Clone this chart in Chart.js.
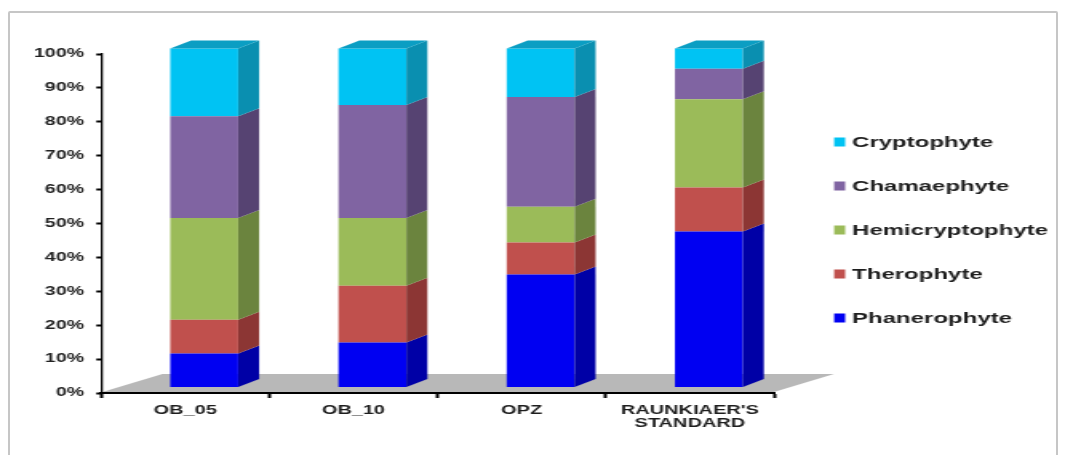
<!DOCTYPE html>
<html><head><meta charset="utf-8">
<script src="https://cdn.jsdelivr.net/npm/chart.js@4.4.1/dist/chart.umd.min.js"></script>
<style>
html,body{margin:0;padding:0;background:#fff;overflow:hidden;width:1065px;height:455px;}
#frame{position:absolute;left:8px;top:11px;width:1050px;height:470px;border:2px solid #c6c6c6;border-radius:2px;box-sizing:border-box;}
#wrap{position:absolute;left:0;top:0;width:666px;height:455px;transform:scaleX(1.5991);transform-origin:0 0;}
</style></head><body>
<div id="frame"></div>
<div id="wrap"><canvas id="c"></canvas></div>
<script>
// ---- data ----
const categories = ['OB_05', 'OB_10', 'OPZ', ["RAUNKIAER'S", 'STANDARD']];
const phanerophyte    = [10, 13.3, 33.3, 46];
const therophyte      = [10, 16.7, 9.5, 13];
const hemicryptophyte = [30, 20, 10.5, 26];
const chamaephyte     = [30, 33.3, 32.4, 9];
const cryptophyte     = [20, 16.7, 14.3, 6];
const yTickLabels = ['0%','10%','20%','30%','40%','50%','60%','70%','80%','90%','100%'];

// ---- styling ----
const SX = 1.5991;                 // horizontal stretch of the picture
const FONT = '"Liberation Sans", Arial, sans-serif';
const depth = {dx: 21 / SX, dy: -8};
const floorDepth = {dx: 60 / SX, dy: -18};
const shift = {dx: 19 / SX, dy: -5.5};

const threeD = {
  id: 'threeD',
  beforeDatasetsDraw(chart) {
    const {ctx, chartArea: a, scales: {y}} = chart;
    const y0 = y.getPixelForValue(0) - 1;
    ctx.save();
    ctx.fillStyle = '#b8b8b8';
    ctx.beginPath();
    ctx.moveTo(a.left + 0.8, y0);
    ctx.lineTo(a.right, y0);
    ctx.lineTo(a.right + floorDepth.dx, y0 + floorDepth.dy);
    ctx.lineTo(a.left + 0.8 + floorDepth.dx, y0 + floorDepth.dy);
    ctx.closePath();
    ctx.fill();
    ctx.restore();
    ctx.save();
    ctx.translate(shift.dx, shift.dy);
  },
  afterDatasetsDraw(chart) {
    const ctx = chart.ctx;
    const n = chart.data.datasets.length;
    chart.data.datasets.forEach((ds, di) => {
      const meta = chart.getDatasetMeta(di);
      meta.data.forEach((bar) => {
        const {x, y, base, width} = bar.getProps(['x', 'y', 'base', 'width'], true);
        const l = x - width / 2, r = x + width / 2;
        ctx.fillStyle = ds.sideColor;
        ctx.beginPath();
        ctx.moveTo(r, y);
        ctx.lineTo(r + depth.dx, y + depth.dy);
        ctx.lineTo(r + depth.dx, base + depth.dy);
        ctx.lineTo(r, base);
        ctx.closePath();
        ctx.fill();
        if (di === n - 1) {
          ctx.fillStyle = ds.topColor;
          ctx.beginPath();
          ctx.moveTo(l, y);
          ctx.lineTo(l + depth.dx, y + depth.dy);
          ctx.lineTo(r + depth.dx, y + depth.dy);
          ctx.lineTo(r, y);
          ctx.closePath();
          ctx.fill();
        }
      });
    });
    ctx.restore();
  }
};

const sideLegend = {
  id: 'sideLegend',
  afterDraw(chart) {
    const ctx = chart.ctx, a = chart.chartArea;
    const items = chart.data.datasets.slice().reverse();
    const left = a.right + 37.6;
    const yStart = 142, step = 44;
    ctx.save();
    ctx.font = 'bold 15px ' + FONT;
    ctx.textBaseline = 'middle';
    ctx.textAlign = 'left';
    items.forEach((ds, k) => {
      const cy = yStart + k * step;
      ctx.fillStyle = ds.backgroundColor;
      ctx.fillRect(left, cy - 4.5, 6.9, 9);
      ctx.fillStyle = '#1e1e1e';
      ctx.fillText(ds.label, left + 11.2, cy + 1);
    });
    ctx.restore();
  }
};

new Chart(document.getElementById('c'), {
  type: 'bar',
  data: {
    labels: categories,
    datasets: [
      {label: 'Phanerophyte', data: phanerophyte, backgroundColor: '#0000F2', sideColor: '#0000A6', topColor: '#0000C8'},
      {label: 'Therophyte', data: therophyte, backgroundColor: '#C0504D', sideColor: '#8C3634', topColor: '#A04240'},
      {label: 'Hemicryptophyte', data: hemicryptophyte, backgroundColor: '#9BBB59', sideColor: '#6B843E', topColor: '#7F9C48'},
      {label: 'Chamaephyte', data: chamaephyte, backgroundColor: '#8064A2', sideColor: '#564372', topColor: '#6A5188'},
      {label: 'Cryptophyte', data: cryptophyte, backgroundColor: '#00C3F3', sideColor: '#0A8FB0', topColor: '#0B9EC3'}
    ].map(d => Object.assign(d, {borderWidth: 0, barPercentage: 0.404, categoryPercentage: 1, clip: false}))
  },
  options: {
    responsive: true,
    maintainAspectRatio: false,
    animation: false,
    layout: {padding: {left: 0, right: 182, top: 54, bottom: 0}},
    plugins: {legend: {display: false}, tooltip: {enabled: false}},
    scales: {
      x: {
        stacked: true,
        offset: true,
        grid: {display: true, drawOnChartArea: false, drawTicks: true, tickLength: 5, tickWidth: 2, tickColor: '#000', offset: true},
        border: {display: true, color: '#000', width: 2},
        ticks: {font: {family: FONT, size: 12.5, weight: 'bold', lineHeight: 1.05}, color: '#1e1e1e', padding: 6, maxRotation: 0, autoSkip: false},
        afterFit(s) { s.height = 62; }
      },
      y: {
        stacked: true,
        min: 0, max: 100,
        ticks: {stepSize: 10, callback: (v, i) => yTickLabels[i], font: {family: FONT, size: 12.2, weight: 'bold'}, color: '#222', padding: 7.7},
        grid: {display: true, drawOnChartArea: false, drawTicks: true, tickLength: 3, tickWidth: 2, tickColor: '#000'},
        border: {display: true, color: '#000', width: 1.3},
        afterFit(s) { s.width = 63.2; }
      }
    }
  },
  plugins: [threeD, sideLegend]
});
</script>
</body></html>
